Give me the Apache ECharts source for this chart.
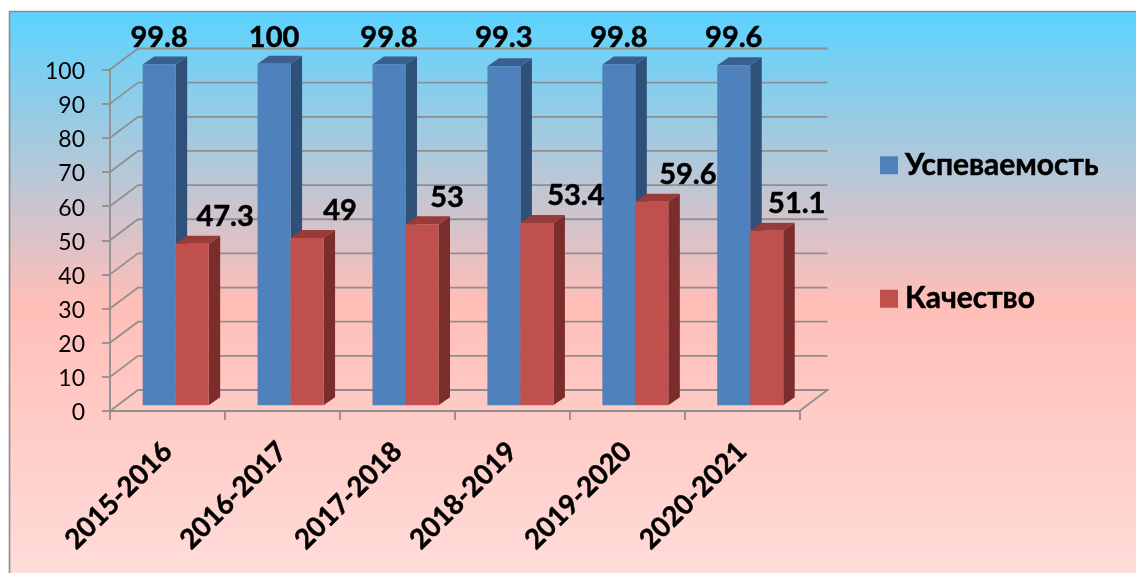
<!DOCTYPE html>
<html><head><meta charset="utf-8">
<style>html,body{margin:0;padding:0;background:#fff}#c{width:1136px;height:573px}</style>
<script src="https://cdn.jsdelivr.net/npm/echarts@6/dist/echarts.min.js"></script>
</head><body><div id="c"></div>
<script>
const years = ['2015-2016','2016-2017','2017-2018','2018-2019','2019-2020','2020-2021'];
const uspevaemost = [99.8,100,99.8,99.3,99.8,99.6];
const kachestvo = [47.3,49,53,53.4,59.6,51.1];
const yTicks = [0,10,20,30,40,50,60,70,80,90,100];
const redLabelNudge = [33,33,25,39,36,30];

const FONT='Lato';
const GRID='#8f8f8f';
const WALL={x:28,y:-21};
const BASE={x:8.2,y:-5.7};
const DEPTH={x:11.5,y:-8};
const BAR_W=33;
const blue={front:'#4f81bd',side:'#2f5078',top:'#3a5f8e'};
const red={front:'#c0504d',side:'#7a2d2b',top:'#993c39'};

const chart=echarts.init(document.getElementById('c'),null,{renderer:'canvas'});

function wallItem(params,api){
  const v=api.value(0);
  const p=api.coord([0,v]);
  const left=p[0]-api.size([1,0])[0]/2;
  const right=left+api.size([1,0])[0]*years.length;
  const y=p[1];
  const pts=[[left,y],[left+WALL.x,y+WALL.y],[right+WALL.x,y+WALL.y]];
  if(v===0)pts.push([right,y]);
  return {type:'polyline',shape:{points:pts},style:{stroke:GRID,lineWidth:1.8,fill:null}};
}

function barItem(seriesIdx,pal){
  return function(params,api){
    const idx=api.value(0), val=api.value(1);
    const c=api.coord([idx,val]), z=api.coord([idx,0]);
    const x0=c[0]+BASE.x+(seriesIdx===0?-BAR_W:0), x1=x0+BAR_W;
    const yt=c[1]+BASE.y, yb=z[1]+BASE.y;
    const d=DEPTH;
    return {type:'group',children:[
      {type:'polygon',shape:{points:[[x1,yt],[x1+d.x,yt+d.y],[x1+d.x,yb+d.y],[x1,yb]]},style:{fill:pal.side}},
      {type:'polygon',shape:{points:[[x0,yt],[x0+d.x,yt+d.y],[x1+d.x,yt+d.y],[x1,yt]]},style:{fill:pal.top}},
      {type:'rect',shape:{x:x0,y:yt,width:BAR_W,height:yb-yt},style:{fill:pal.front}}
    ]};
  };
}

function labelItem(seriesIdx){
  return function(params,api){
    const idx=api.value(0), val=api.value(1);
    const c=api.coord([idx,val]);
    const top=api.coord([idx,100])[1];
    let x,y;
    if(seriesIdx===0){x=c[0]+BASE.x-BAR_W/2;y=top-32;}
    else{x=c[0]+BASE.x+BAR_W/2+redLabelNudge[idx];y=c[1]+BASE.y-27;}
    return {type:'text',style:{x:x,y:y,text:String(val),font:'bold 29px '+FONT,fill:'#000',stroke:'#000',lineWidth:0.5,align:'center',verticalAlign:'middle'}};
  };
}

const pairs=a=>a.map((v,i)=>[i,v]);

chart.setOption({
  animation:false,
  graphic:[{type:'rect',z:-10,silent:true,shape:{x:9.5,y:11.5,width:1140,height:580},
    style:{stroke:'#8c8c8c',lineWidth:1.6,fill:new echarts.graphic.LinearGradient(0,0,0,1,[
      {offset:0,color:'#5bd3ff'},{offset:0.5,color:'#ffbeb8'},{offset:1,color:'#ffdeda'}])}}],
  grid:{left:110,top:69.5,width:689.5,height:341.5,containLabel:false},
  legend:{orient:'vertical',left:875,top:145,itemWidth:18,itemHeight:18,itemGap:103,icon:'rect',
    data:['Успеваемость','Качество'],selectedMode:false,
    textStyle:{fontFamily:FONT,fontWeight:'bold',fontSize:30,lineHeight:18,color:'#000',padding:[0,0,0,2],textBorderColor:'#000',textBorderWidth:0.5}},
  xAxis:{type:'category',data:years,boundaryGap:true,
    axisLine:{lineStyle:{color:GRID,width:1.8}},
    axisTick:{show:true,length:9,alignWithLabel:false,lineStyle:{color:GRID,width:1.8}},
    splitLine:{show:false},
    axisLabel:{rotate:45,interval:0,margin:36,fontFamily:FONT,fontWeight:'bold',fontSize:27.5,color:'#000',textBorderColor:'#000',textBorderWidth:0.5}},
  yAxis:{type:'value',min:0,max:100,interval:10,
    axisLine:{show:true,lineStyle:{color:GRID,width:1.8}},
    axisTick:{show:true,length:8,lineStyle:{color:GRID,width:1.8}},
    splitLine:{show:false},
    axisLabel:{margin:25,fontFamily:FONT,fontSize:23,color:'#000',verticalAlign:'top',lineHeight:4}},
  series:[
    {type:'custom',name:'walls',silent:true,z:1,data:yTicks.map(v=>[v]),encode:{y:0},renderItem:wallItem,coordinateSystem:'cartesian2d'},
    {type:'custom',name:'Успеваемость',z:3,itemStyle:{color:blue.front},data:pairs(uspevaemost),encode:{x:0,y:1},renderItem:barItem(0,blue)},
    {type:'custom',name:'Качество',z:4,itemStyle:{color:red.front},data:pairs(kachestvo),encode:{x:0,y:1},renderItem:barItem(1,red)},
    {type:'custom',name:'l1',silent:true,z:6,data:pairs(uspevaemost),encode:{x:0,y:1},renderItem:labelItem(0),clip:false},
    {type:'custom',name:'l2',silent:true,z:6,data:pairs(kachestvo),encode:{x:0,y:1},renderItem:labelItem(1),clip:false}
  ]
});
</script></body></html>
